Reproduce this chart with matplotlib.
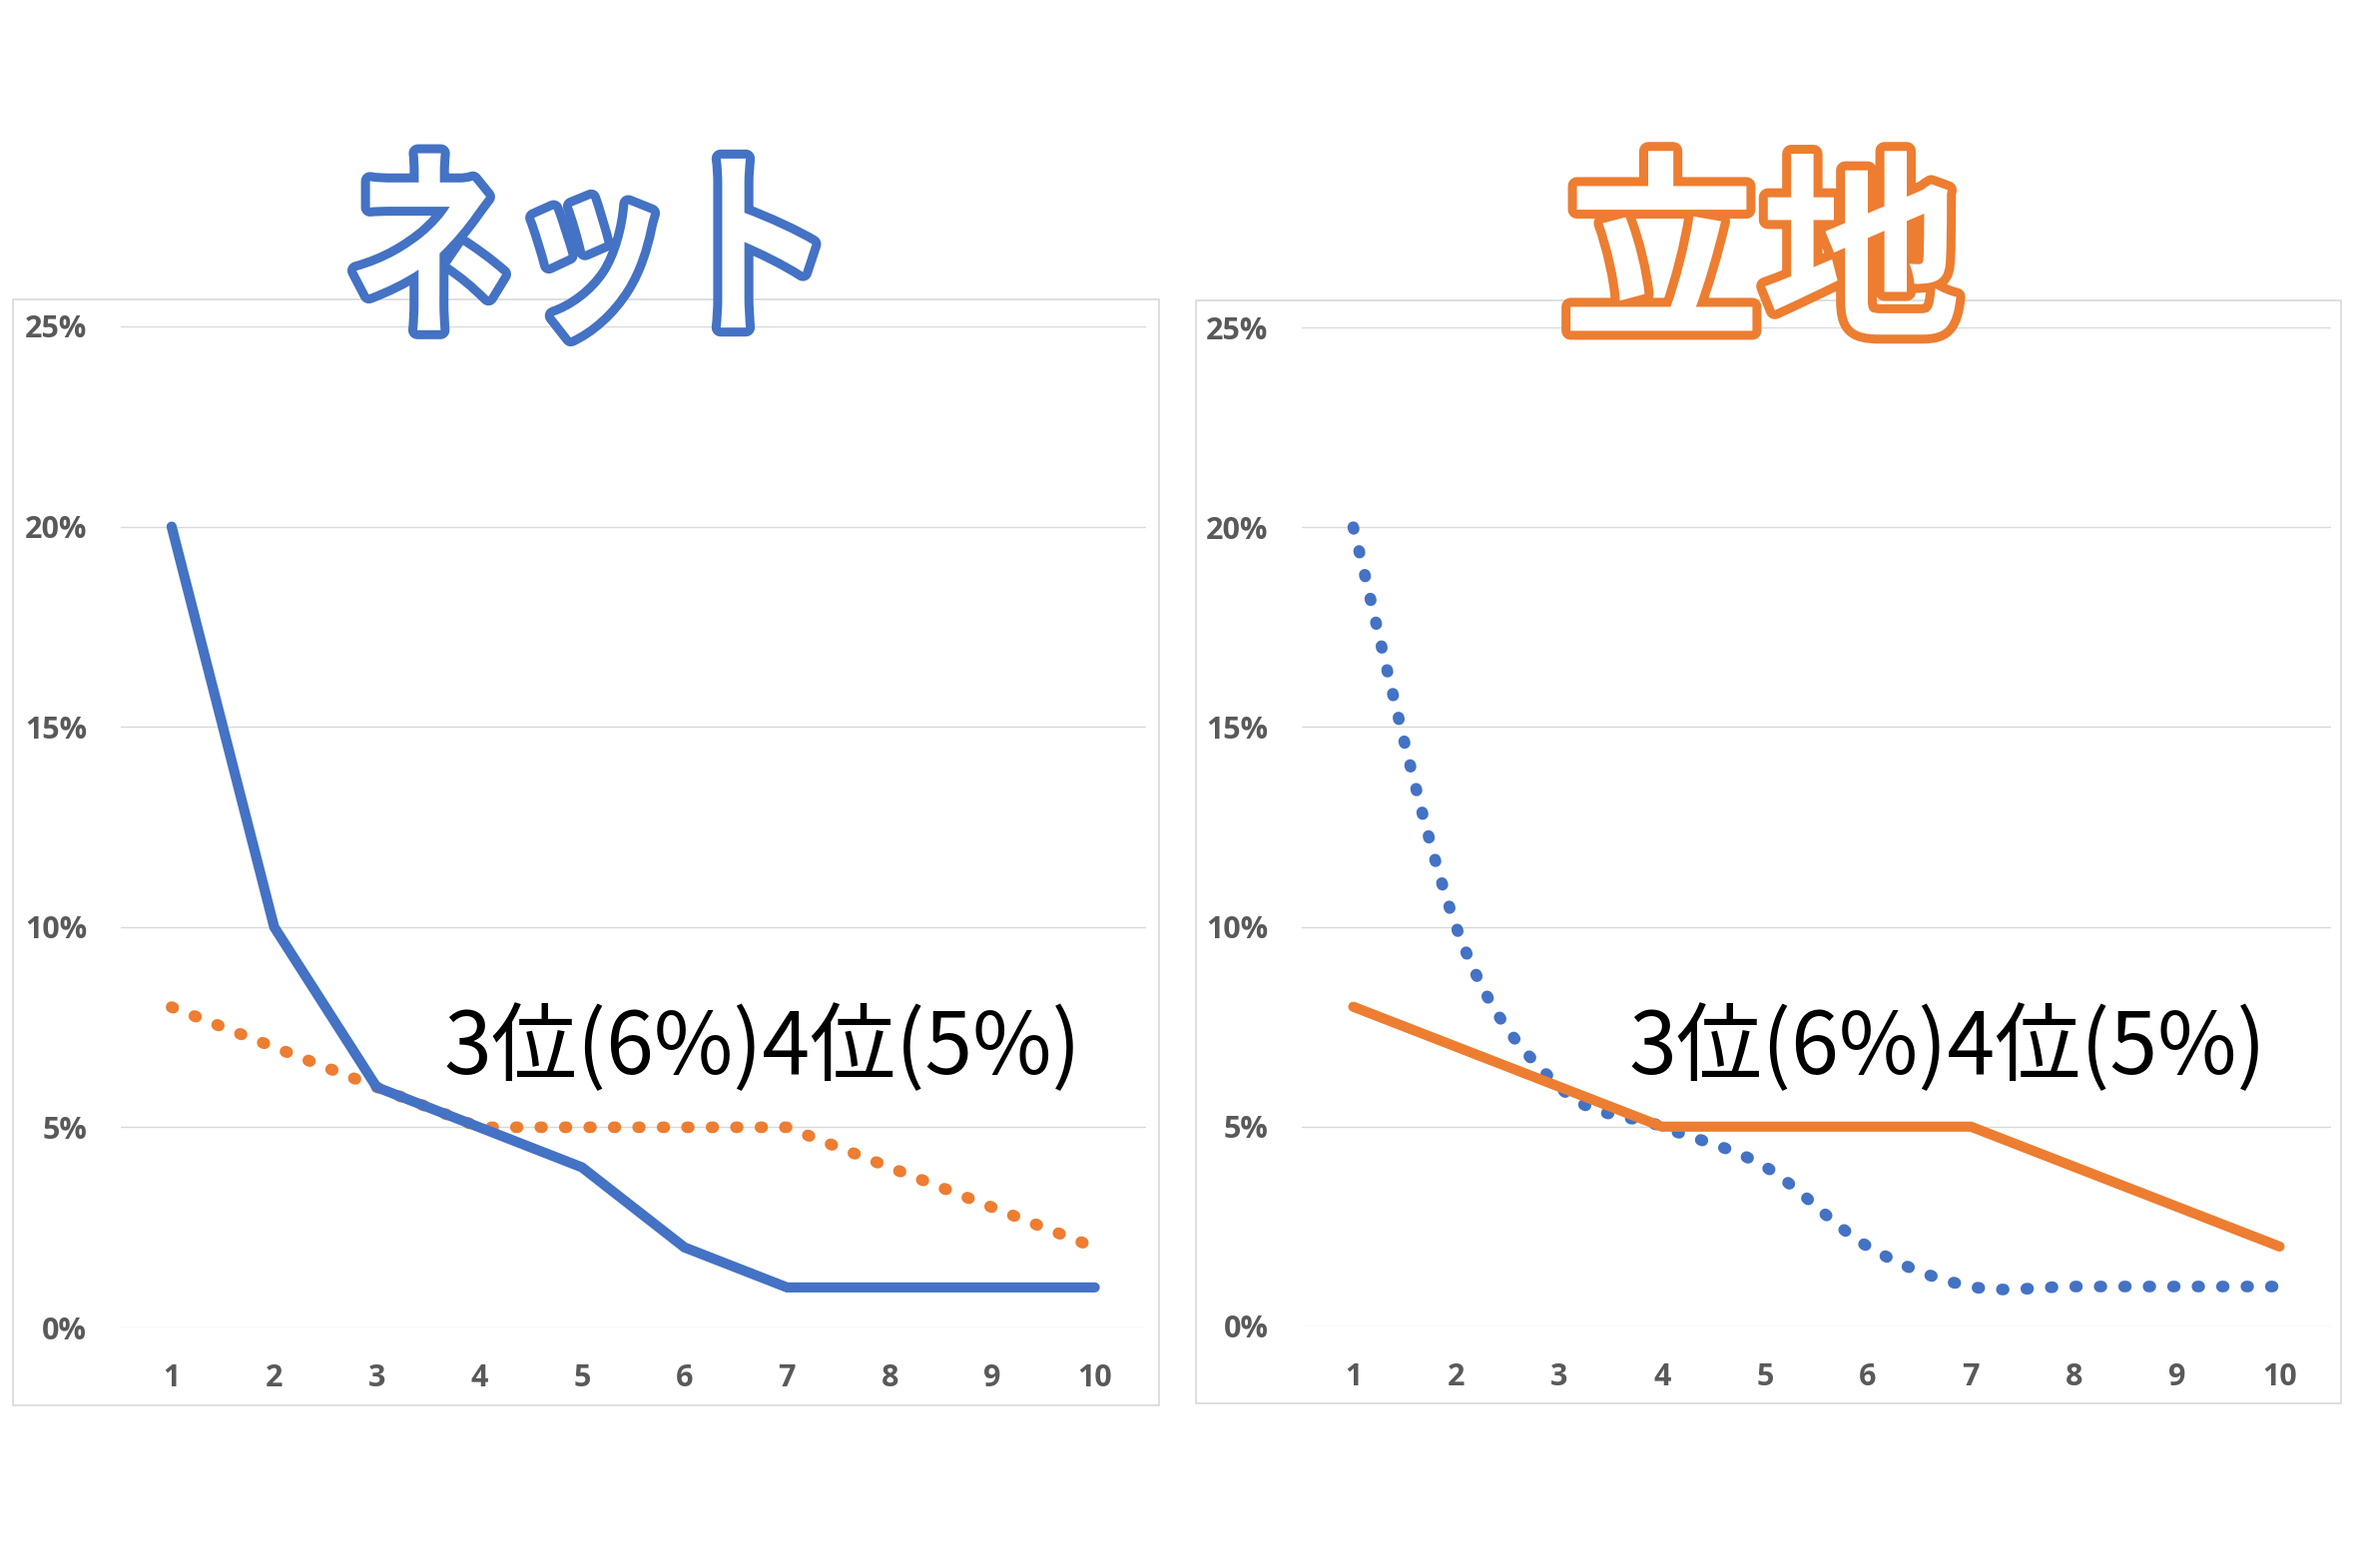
import matplotlib
matplotlib.use("Agg")
import numpy as np
import matplotlib.pyplot as plt
import matplotlib.patheffects as pe
from matplotlib.transforms import Affine2D
from matplotlib.path import Path
from matplotlib.patches import PathPatch, Rectangle

# ---------------- data ----------------
ranks = [1, 2, 3, 4, 5, 6, 7, 8, 9, 10]
net_share = [0.20, 0.10, 0.06, 0.05, 0.04, 0.02, 0.01, 0.01, 0.01, 0.01]
location_share = [0.08, 0.07, 0.06, 0.05, 0.05, 0.05, 0.05, 0.04, 0.03, 0.02]
y_ticks = [0.00, 0.05, 0.10, 0.15, 0.20, 0.25]
y_tick_labels = ["0%", "5%", "10%", "15%", "20%", "25%"]
x_tick_labels = ["1", "2", "3", "4", "5", "6", "7", "8", "9", "10"]
panel_titles = ["ネット", "立地"]
note_text = "3位(6%)4位(5%)"

BLUE = "#4472C4"
ORANGE = "#ED7D31"
GRID = "#D9D9D9"
TICK = "#595959"

plt.rcParams["font.family"] = ["Noto Sans CJK JP", "DejaVu Sans"]


class ScaledStroke(pe.Stroke):
    """Stroke path effect that also scales the glyph outline about its centre."""

    def __init__(self, sx=1.0, sy=1.0, **kwargs):
        super().__init__(**kwargs)
        self._sx, self._sy = sx, sy

    def draw_path(self, renderer, gc, tpath, affine, rgbFace):
        v = affine.transform(tpath.vertices)
        cx = 0.5 * (v[:, 0].min() + v[:, 0].max())
        cy = 0.5 * (v[:, 1].min() + v[:, 1].max())
        aff = affine + Affine2D().translate(-cx, -cy).scale(self._sx, self._sy).translate(cx, cy)
        super().draw_path(renderer, gc, tpath, aff, rgbFace)


def smooth_path(xs, ys):
    pts = np.column_stack([xs, ys]).astype(float)
    n = len(pts)
    verts = [pts[0]]
    codes = [Path.MOVETO]
    for i in range(n - 1):
        p0 = pts[i - 1] if i > 0 else pts[i]
        p1 = pts[i]
        p2 = pts[i + 1]
        p3 = pts[i + 2] if i + 2 < n else pts[i + 1]
        c1 = p1 + (p2 - p0) / 6.0
        c2 = p2 - (p3 - p1) / 6.0
        verts += [c1, c2, p2]
        codes += [Path.CURVE4] * 3
    return Path(verts, codes)


W, H = 2362, 1571
fig = plt.figure(figsize=(W / 100, H / 100), dpi=100, facecolor="white")


def fx(px):
    return px / W


def fy(py):
    return 1 - py / H


DOT_LW = 8.4
DOT = (0, (0.15, 1.95))
SOLID_LW = 7.3


def style_axes(ax):
    ax.set_xlim(0.5, 10.5)
    ax.set_ylim(0, 0.25)
    ax.set_yticks(y_ticks)
    ax.set_yticklabels(y_tick_labels)
    ax.set_xticks(ranks)
    ax.set_xticklabels(x_tick_labels)
    for s in ax.spines.values():
        s.set_visible(False)
    ax.grid(axis="y", color=GRID, linewidth=1.0)
    ax.set_axisbelow(True)
    ax.tick_params(axis="both", length=0, colors=TICK)
    ax.tick_params(axis="y", pad=24)
    ax.tick_params(axis="x", pad=26)
    for lab in ax.get_xticklabels() + ax.get_yticklabels():
        lab.set_fontfamily(["Open Sans", "DejaVu Sans"])
        lab.set_fontweight("bold")
        lab.set_fontsize(22)
        lab.set_color(TICK)
    ax.patch.set_alpha(0)


# ---------- left panel (ネット) ----------
axL = fig.add_axes([fx(120.5), fy(1330), fx(1148) - fx(120.5), fy(327) - fy(1330)])
style_axes(axL)
axL.plot(ranks, location_share, color=ORANGE, lw=DOT_LW, linestyle=DOT,
         dash_capstyle="round", zorder=3)
axL.plot(ranks, net_share, color=BLUE, lw=SOLID_LW, solid_capstyle="round",
         solid_joinstyle="miter", zorder=4)

# ---------- right panel (立地) ----------
axR = fig.add_axes([fx(1304), fy(1329), fx(2335) - fx(1304), fy(328) - fy(1329)])
style_axes(axR)
axR.add_patch(PathPatch(smooth_path(ranks, net_share), fill=False, edgecolor=BLUE,
                        lw=DOT_LW, linestyle=DOT, capstyle="round", zorder=3))
axR.plot(ranks, location_share, color=ORANGE, lw=SOLID_LW, solid_capstyle="round",
         solid_joinstyle="miter", zorder=4)

# ---------- chart-area frames ----------
for (x0, y0, x1, y1) in [(13, 300, 1161, 1408), (1198, 301, 2345, 1406)]:
    fig.add_artist(Rectangle((fx(x0), fy(y1)), fx(x1) - fx(x0), fy(y0) - fy(y1),
                             transform=fig.transFigure, fill=False,
                             edgecolor=GRID, lw=1.2, zorder=0.5))

# ---------- outlined titles ----------
title_specs = [(panel_titles[0], 594, 260, BLUE, 0.80, 146),
               (panel_titles[1], 1764, 263, ORANGE, 1.0, 144)]
for txt, cx, cy, col, sx, fs in title_specs:
    fig.text(fx(cx), fy(cy), txt, ha="center", va="center", fontsize=fs,
             fontweight="bold", color="white", zorder=10,
             path_effects=[ScaledStroke(sx=sx, linewidth=13, foreground=col,
                                        joinstyle="round", capstyle="round"),
                           ScaledStroke(sx=sx)])

# ---------- annotation ----------
for cx in (764, 1951):
    fig.text(fx(cx), fy(1052), note_text, ha="center", va="center", fontsize=62,
             color="black", zorder=10)

fig.savefig("out.png", dpi=100, facecolor="white")
